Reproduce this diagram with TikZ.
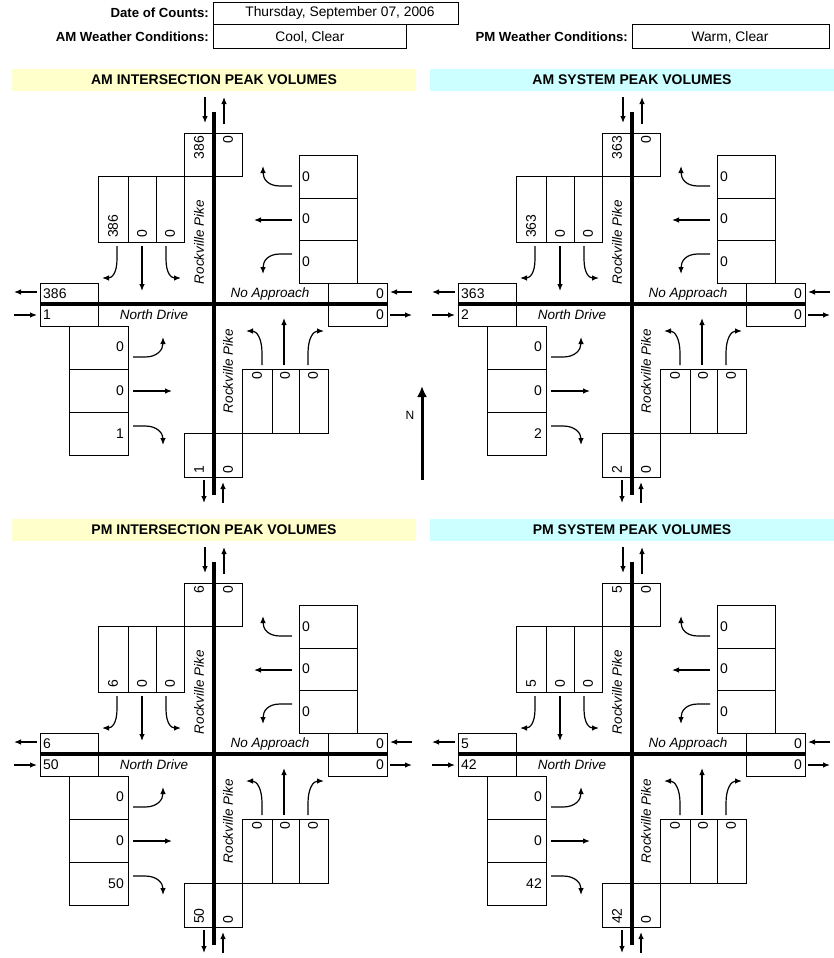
\documentclass[tikz,border=0pt]{standalone}
\usepackage{fontspec}
\setmainfont{Liberation Sans}
\usetikzlibrary{arrows.meta}
\definecolor{intbar}{RGB}{255,255,204}
\definecolor{sysbar}{RGB}{204,255,255}

\tikzset{
  box/.style={draw, line width=0.9pt},
  road/.style={line width=3.3pt},
  mov/.style={line width=1.2pt, -{Latex[length=7pt,width=5.5pt]}},
  num/.style={inner sep=0pt, font=\fontsize{14}{16}\selectfont},
  vnum/.style={num, rotate=90},
  street/.style={inner sep=0pt, font=\fontsize{13.5}{16}\selectfont\itshape},
  head/.style={inner sep=0pt, anchor=east, font=\fontsize{13.2}{16}\selectfont\bfseries},
  entry/.style={inner sep=0pt, font=\fontsize{13.8}{16}\selectfont},
  bartitle/.style={inner sep=0pt, font=\fontsize{14}{16}\selectfont\bfseries}
}

\begin{document}
\begin{tikzpicture}[x=1pt, y=-1pt]
\useasboundingbox (0,0) rectangle (834,958);

% count data at the top
\node[head] (datelbl) at (209,13) {Date of Counts:};
\draw[box] (213,2) rectangle (458,24);
\node[entry] (date) at (340,13) {Thursday, September 07, 2006};

\node[head] (amlbl) at (209,37) {AM Weather Conditions:};
\draw[box] (213,24) rectangle (406,48);
\node[entry] (amwx) at (310,37) {Cool, Clear};

\node[head] (pmlbl) at (628,37) {PM Weather Conditions:};
\draw[box] (632,24) rectangle (829,48);
\node[entry] (pmwx) at (730,37) {Warm, Clear};

% one intersection per quarter: centre / title / bar colour / SB right / EB right
\foreach \cx/\cy/\ttl/\barcol/\sbr/\ebr in {
    214/304/AM INTERSECTION PEAK VOLUMES/intbar/386/1,
    632/304/AM SYSTEM PEAK VOLUMES/sysbar/363/2,
    214/754/PM INTERSECTION PEAK VOLUMES/intbar/6/50,
    632/754/PM SYSTEM PEAK VOLUMES/sysbar/5/42}{
  \begin{scope}[shift={(\cx,\cy)}]
    \fill[\barcol] (-202,-235) rectangle (202,-213);
    \node[bartitle] (ttl\cx\cy) at (0,-224) {\ttl};

    % lane boxes
    \draw[box] (-30,-171) rectangle (28,-128);
    \draw[box] (-116,-128) rectangle (-30,-62) (-86,-128) -- (-86,-62) (-58,-128) -- (-58,-62);
    \draw[box] (85,-149) rectangle (143,-21) (85,-106) -- (143,-106) (85,-64) -- (143,-64);
    \draw[box] (114,-21) rectangle (173,22);
    \draw[box] (-174,-21) rectangle (-116,22);
    \draw[box] (-145,22) rectangle (-86,151) (-145,65) -- (-86,65) (-145,108) -- (-86,108);
    \draw[box] (28,65) rectangle (114,129) (58,65) -- (58,129) (85,65) -- (85,129);
    \draw[box] (-30,129) rectangle (28,173);

    % roads
    \draw[road] (0,-192) -- (0,191);
    \draw[road] (-174,0) -- (173,0);

    % volumes
    \node[vnum, anchor=east] (nin\cx\cy) at (-15,-168) {\sbr};
    \node[vnum, anchor=east] (nout\cx\cy) at (14,-168) {0};
    \node[vnum, anchor=west] (sbr\cx\cy) at (-101,-66) {\sbr};
    \node[vnum, anchor=west] (sbt\cx\cy) at (-72,-66) {0};
    \node[vnum, anchor=west] (sbl\cx\cy) at (-44,-66) {0};
    \node[num, anchor=west] (wbl\cx\cy) at (88,-127) {0};
    \node[num, anchor=west] (wbt\cx\cy) at (88,-85) {0};
    \node[num, anchor=west] (wbr\cx\cy) at (88,-42) {0};
    \node[num, anchor=east] (ein\cx\cy) at (170,-10) {0};
    \node[num, anchor=east] (eout\cx\cy) at (170,11) {0};
    \node[num, anchor=west] (wout\cx\cy) at (-171,-10) {\sbr};
    \node[num, anchor=west] (win\cx\cy) at (-171,11) {\ebr};
    \node[num, anchor=east] (ebl\cx\cy) at (-90,43) {0};
    \node[num, anchor=east] (ebt\cx\cy) at (-90,87) {0};
    \node[num, anchor=east] (ebr\cx\cy) at (-90,130) {\ebr};
    \node[vnum, anchor=east] (nbl\cx\cy) at (43,68) {0};
    \node[vnum, anchor=east] (nbt\cx\cy) at (71,68) {0};
    \node[vnum, anchor=east] (nbr\cx\cy) at (99,68) {0};
    \node[vnum, anchor=west] (sout\cx\cy) at (-15,170) {\ebr};
    \node[vnum, anchor=west] (sin\cx\cy) at (14,170) {0};

    % street names
    \node[street] (noapp\cx\cy) at (56,-10) {No Approach};
    \node[street] (north\cx\cy) at (-60,11) {North Drive};
    \node[street, rotate=90] (pikeN\cx\cy) at (-15,-62) {Rockville Pike};
    \node[street, rotate=90] (pikeS\cx\cy) at (14,67) {Rockville Pike};

    % in and out
    \draw[mov] (-9,-207) -- (-9,-181);
    \draw[mov] (10,-180) -- (10,-207);
    \draw[mov] (-10,176) -- (-10,199);
    \draw[mov] (9,199) -- (9,178);
    \draw[mov] (-177,-12) -- (-200,-12);
    \draw[mov] (-200,11) -- (-177,11);
    \draw[mov] (198,-12) -- (176,-12);
    \draw[mov] (176,11) -- (198,11);

    % turning movements
    \draw[mov] (-97,-58) -- (-97,-45) .. controls (-97,-31) and (-102,-26) .. (-112,-26);
    \draw[mov] (-72,-58) -- (-72,-13);
    \draw[mov] (-48,-58) -- (-48,-45) .. controls (-48,-31) and (-43,-26) .. (-33,-26);
    \draw[mov] (78,-118) -- (66,-118) .. controls (54,-118) and (49,-125) .. (49,-138);
    \draw[mov] (78,-84) -- (40,-84);
    \draw[mov] (78,-50) -- (66,-50) .. controls (54,-50) and (49,-43) .. (49,-30);
    \draw[mov] (-81,53) -- (-69,53) .. controls (-57,53) and (-51,46) .. (-51,33);
    \draw[mov] (-81,87) -- (-42,87);
    \draw[mov] (-81,122) -- (-69,122) .. controls (-57,122) and (-51,129) .. (-51,141);
    \draw[mov] (48,61) -- (48,49) .. controls (48,35) and (43,27) .. (32,27);
    \draw[mov] (70,61) -- (70,14);
    \draw[mov] (94,61) -- (94,49) .. controls (94,35) and (99,27) .. (110,27);
  \end{scope}
}

% north arrow
\draw[line width=3pt, -{Latex[length=11pt,width=10pt]}] (422,480) -- (422,386);
\node[inner sep=0pt, font=\fontsize{12}{13}\selectfont] (north) at (410,415) {N};
\end{tikzpicture}
\end{document}
